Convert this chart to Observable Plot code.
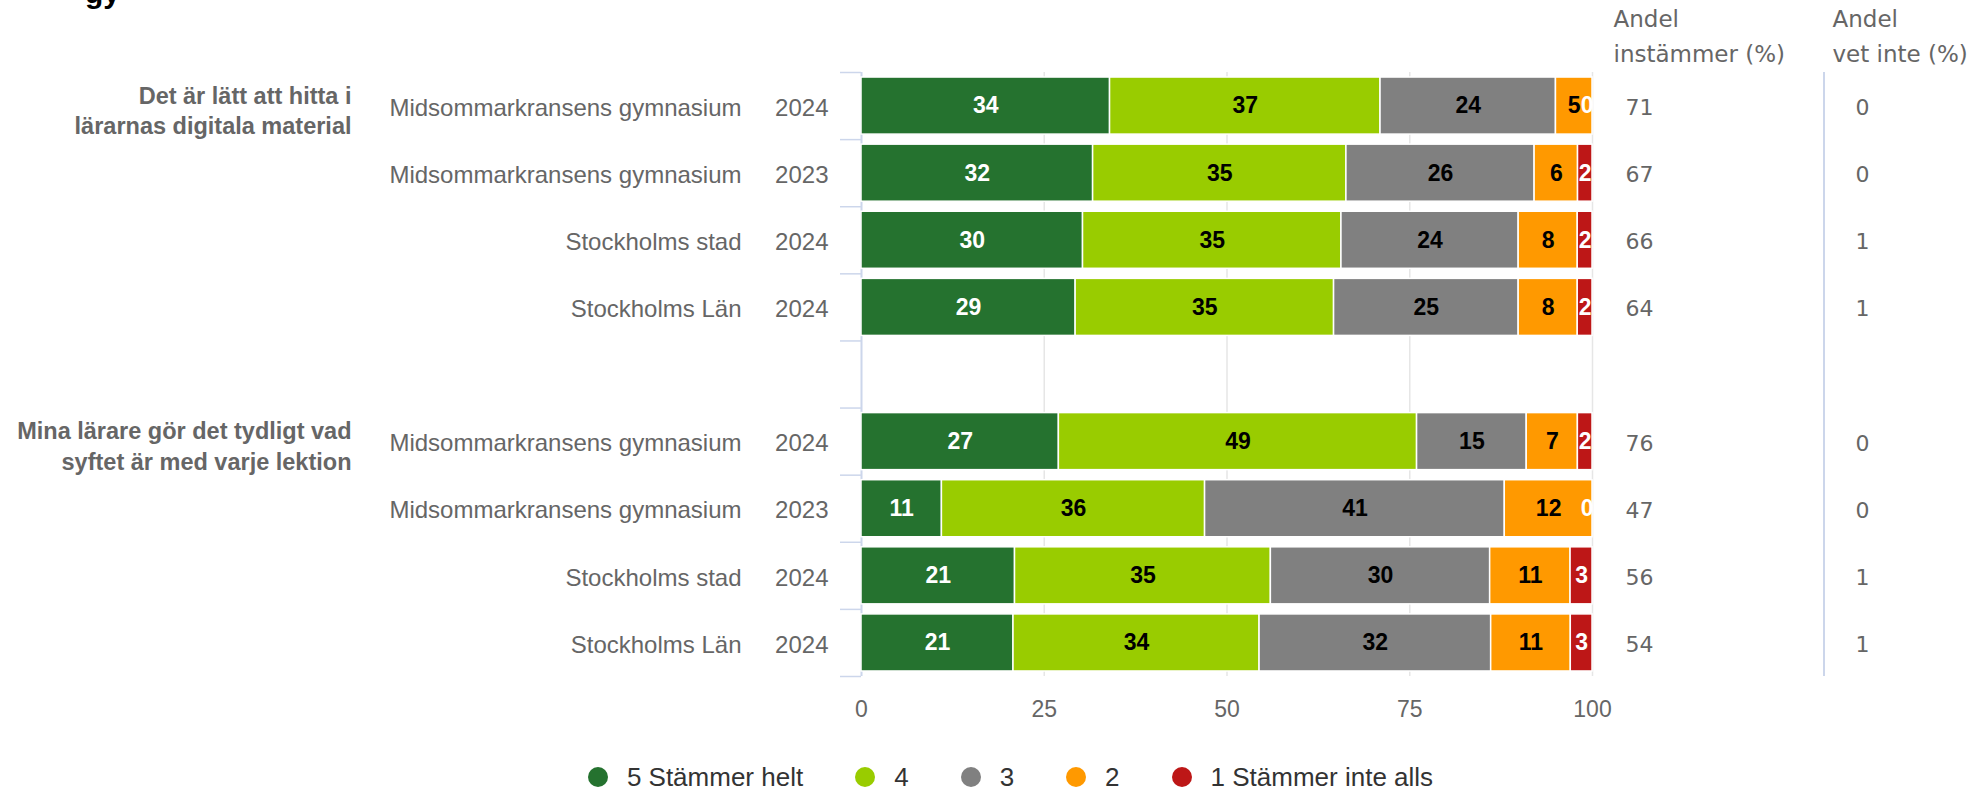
<!DOCTYPE html>
<html><head><meta charset="utf-8">
<script src="https://cdn.jsdelivr.net/npm/d3@7"></script>
<script src="https://cdn.jsdelivr.net/npm/@observablehq/plot@0.6"></script>
<style>
body{margin:0;background:#fff;font-family:"Liberation Sans",Arial,sans-serif;}
#wrap{position:relative;width:1975px;overflow:hidden;}
#cut{position:absolute;left:85px;top:-22px;font:bold 30px/30px "Liberation Sans",Arial,sans-serif;color:#000;}
#legend{display:flex;justify-content:center;align-items:center;height:74px;padding-left:46px;font-size:26px;color:#333;}
.item{display:flex;align-items:center;margin-right:52px;}
.item:last-child{margin-right:0;}
.sw{width:20px;height:20px;border-radius:50%;margin-right:19px;}
</style></head><body>
<div id="wrap"><div id="cut">gy</div><div id="chart"></div><div id="legend"></div></div>
<script>
// ---- data ----
const groupLabels = ["Det är lätt att hitta i\nlärarnas digitala material", "Mina lärare gör det tydligt vad\nsyftet är med varje lektion"];
const units = ["Midsommarkransens gymnasium", "Midsommarkransens gymnasium", "Stockholms stad", "Stockholms Län"];
const years = ["2024", "2023", "2024", "2024"];
const seriesNames = ["5 Stämmer helt", "4", "3", "2", "1 Stämmer inte alls"];
const seriesColors = ["#25722f", "#99cc00", "#808080", "#ff9900", "#bd1717"];
const labelColors = ["#ffffff", "#000000", "#000000", "#000000", "#ffffff"];
const s5 = [34, 32, 30, 29, 27, 11, 21, 21];
const s4 = [37, 35, 35, 35, 49, 36, 35, 34];
const s3 = [24, 26, 24, 25, 15, 41, 30, 32];
const s2 = [5, 6, 8, 8, 7, 12, 11, 11];
const s1 = [0, 2, 2, 2, 2, 0, 3, 3];
const andelInstammer = [71, 67, 66, 64, 76, 47, 56, 54];
const andelVetInte = [0, 0, 1, 1, 0, 0, 1, 1];
const columnHeaders = ["Andel\ninstämmer (%)", "Andel\nvet inte (%)"];
const xTicks = [0, 25, 50, 75, 100];

// ---- build tables ----
const seriesValues = [s5, s4, s3, s2, s1];
const rows = [];
groupLabels.forEach((g, gi) => units.forEach((u, k) => {
  const i = gi * 4 + k;
  rows.push({key: `g${gi}r${k}`, i, group: g, first: k === 0, unit: u, year: years[k], instammer: andelInstammer[i], vetinte: andelVetInte[i]});
}));
const yDomain = [...rows.slice(0, 4).map(r => r.key), "gap", ...rows.slice(4).map(r => r.key)];

const table = [];
rows.forEach(r => {
  const total = d3.sum(seriesValues, s => s[r.i]);
  let acc = 0;
  seriesValues.forEach((s, j) => {
    const v = s[r.i];
    const x1 = acc / total * 100;
    acc += v;
    const x2 = acc / total * 100;
    table.push({row: r.key, series: seriesNames[j], sj: j, value: v, x1, x2, mid: (x1 + x2) / 2});
  });
});

// ---- layout ----
const W = 1975, H = 740, mT = 72, mB = 64, mL = 861, mR = 383;
const step = (H - mT - mB) / yDomain.length;
const grey = "#666666";
const rightFont = "'DejaVu Sans', Verdana, sans-serif";

const chart = Plot.plot({
  width: W, height: H,
  marginTop: mT, marginBottom: mB, marginLeft: mL, marginRight: mR,
  style: {fontFamily: "'Liberation Sans', Arial, sans-serif", fontSize: "24px", color: grey, background: "#fff"},
  x: {domain: [0, 100], axis: null},
  y: {domain: yDomain, paddingInner: 0.15, paddingOuter: 0.075, round: false, axis: null},
  color: {domain: seriesNames, range: seriesColors},
  marks: [
    Plot.ruleX(xTicks.filter(t => t > 0), {stroke: "#e6e6e6", strokeWidth: 1.5}),
    Plot.ruleX([0], {stroke: "#ccd6eb", strokeWidth: 2}),
    Plot.ruleY(yDomain, {y: d => d, x1: 0, x2: 0, insetLeft: -21, dy: -step / 2, stroke: "#ccd6eb", strokeWidth: 1.5}),
    Plot.ruleY(yDomain.slice(-1), {y: d => d, x1: 0, x2: 0, insetLeft: -21, dy: step / 2, stroke: "#ccd6eb", strokeWidth: 1.5}),
    Plot.barX(table, {x1: "x1", x2: "x2", y: "row", fill: "series", stroke: "#ffffff", strokeWidth: 1.5}),
    Plot.text(table, {filter: d => d.value > 0, x: "mid", y: "row", text: d => String(d.value), fill: d => labelColors[d.sj], fontWeight: "bold", fontSize: 23}),
    Plot.text(table, {filter: d => d.value === 0, x: "x2", y: "row", text: d => String(d.value), fill: d => labelColors[d.sj], textAnchor: "end", dx: 1, fontWeight: "bold", fontSize: 23}),
    Plot.axisX({ticks: xTicks, tickSize: 0, tickPadding: 24, fontSize: 23, color: grey}),
    // category labels
    Plot.text(rows, {y: "key", text: "unit", frameAnchor: "left", dx: -120, dy: 2, textAnchor: "end", fill: grey, fontSize: 24}),
    Plot.text(rows, {y: "key", text: "year", frameAnchor: "left", dx: -33, dy: 2, textAnchor: "end", fill: grey, fontSize: 24}),
    Plot.text(rows.filter(r => r.first), {y: "key", text: "group", frameAnchor: "left", dx: -510, dy: 3, textAnchor: "end", lineHeight: 1.3, fill: grey, fontWeight: "bold", fontSize: 23.5}),
    // right-hand columns
    Plot.ruleX([100], {dx: 231.5, stroke: "#ccd6eb", strokeWidth: 2}),
    Plot.text(rows, {y: "key", text: d => String(d.instammer), frameAnchor: "right", dx: 33, dy: 2, textAnchor: "start", fill: grey, fontFamily: rightFont, fontSize: 22}),
    Plot.text(rows, {y: "key", text: d => String(d.vetinte), frameAnchor: "right", dx: 263, dy: 2, textAnchor: "start", fill: grey, fontFamily: rightFont, fontSize: 22}),
    Plot.text(columnHeaders.slice(0, 1), {text: d => d, frameAnchor: "top-right", dx: 21, dy: -39, textAnchor: "start", lineAnchor: "middle", lineHeight: 1.5, fill: grey, fontFamily: rightFont, fontSize: 23}),
    Plot.text(columnHeaders.slice(1), {text: d => d, frameAnchor: "top-right", dx: 240, dy: -39, textAnchor: "start", lineAnchor: "middle", lineHeight: 1.5, fill: grey, fontFamily: rightFont, fontSize: 23})
  ]
});
document.getElementById("chart").appendChild(chart);

// legend
const legend = d3.select("#legend");
seriesNames.forEach((name, j) => {
  const it = legend.append("div").attr("class", "item");
  it.append("div").attr("class", "sw").style("background", seriesColors[j]);
  it.append("span").text(name);
});
</script>
</body></html>
